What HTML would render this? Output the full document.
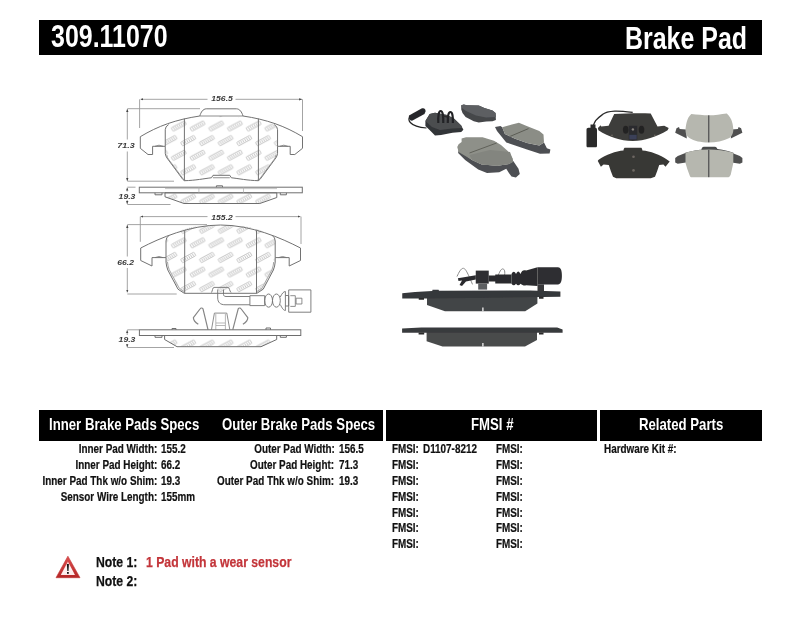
<!DOCTYPE html>
<html><head><meta charset="utf-8">
<style>
html,body{margin:0;padding:0;background:#fff;width:800px;height:619px;overflow:hidden;position:relative}
.t{position:absolute;white-space:nowrap;line-height:1;font-family:"Liberation Sans",sans-serif;font-weight:bold;transform-origin:0 0;color:#111}
.r{transform-origin:100% 0}
.bar{position:absolute;background:#000}
.w{color:#fff}
.s11{font-size:12px;transform:scaleX(0.824);-webkit-text-stroke:0.2px #111}
.h16{font-size:16.3px;transform:scaleX(0.81)}
.n15{font-size:15px;transform:scaleX(0.815);-webkit-text-stroke:0.25px currentColor}
.red{color:#c3353a}
svg{position:absolute;left:0;top:0}
</style></head><body>
<svg width="800" height="619" style="z-index:1">
<defs>
 <pattern id="cp" patternUnits="userSpaceOnUse" width="18.7" height="29.2" patternTransform="translate(1,1)">
  <g fill="none" stroke="#bdbdbd" stroke-width="0.8">
   <g transform="translate(2,10) rotate(-28)"><rect x="0" y="0" width="15" height="4" rx="0.6"/><path d="M2.3 0.7v2.6M4.4 0.7v2.6M6.5 0.7v2.6M8.6 0.7v2.6M10.7 0.7v2.6M12.8 0.7v2.6"/></g>
   <g transform="translate(11.35,24.6) rotate(-28)"><rect x="0" y="0" width="15" height="4" rx="0.6"/><path d="M2.3 0.7v2.6M4.4 0.7v2.6M6.5 0.7v2.6M8.6 0.7v2.6M10.7 0.7v2.6M12.8 0.7v2.6"/></g>
   <g transform="translate(-7.35,24.6) rotate(-28)"><rect x="0" y="0" width="15" height="4" rx="0.6"/><path d="M2.3 0.7v2.6M4.4 0.7v2.6M6.5 0.7v2.6M8.6 0.7v2.6M10.7 0.7v2.6M12.8 0.7v2.6"/></g>
  </g>
 </pattern>
 <filter id="gs"><feOffset dx="0" dy="0"/></filter>
 <marker id="ah" viewBox="0 0 6 6" refX="6" refY="3" markerWidth="3.2" markerHeight="3.2" orient="auto-start-reverse"><path d="M0 0.6 L6 3 L0 5.4 Z" fill="#444"/></marker>
</defs>
<g font-family="Liberation Sans" font-weight="bold" font-style="italic" font-size="7.3" fill="#3a3a3a" filter="url(#gs)">
 <text transform="translate(211.3,101.3) scale(1.18,1)">156.5</text>
 <text transform="translate(117.3,148) scale(1.22,1)">71.3</text>
 <text transform="translate(118.6,198.6) scale(1.18,1)">19.3</text>
 <text transform="translate(211.3,219.6) scale(1.18,1)">155.2</text>
 <text transform="translate(117.3,265) scale(1.18,1)">66.2</text>
 <text transform="translate(118.6,342.4) scale(1.18,1)">19.3</text>
</g>
<g fill="none" stroke="#9a9a9a" stroke-width="0.9">
 <!-- drawing1 dims -->
 <path d="M140.5 99.3H207.5M235.5 99.3H302" marker-start="url(#ah)" marker-end="url(#ah)"/>
 <path d="M139.6 99.3V128M302.5 99.3V131"/>
 <path d="M127.3 109V139.5M127.3 151.5V181" marker-start="url(#ah)" marker-end="url(#ah)"/>
 <path d="M127.3 108.7H200M127.3 181.2H174"/>
 <path d="M127.2 187.7V191.5M127.2 200V204" marker-start="url(#ah)" marker-end="url(#ah)"/>
 <path d="M127.3 187.2H135.5M127.3 204.5H170.5"/>
 <!-- drawing2 dims -->
 <path d="M140.5 216.6H207.5M235.5 216.6H300.5" marker-start="url(#ah)" marker-end="url(#ah)"/>
 <path d="M140.3 216.6V241.8M301 216.6V244"/>
 <path d="M127.3 225V256.5M127.3 268V292.5" marker-start="url(#ah)" marker-end="url(#ah)"/>
 <path d="M127.3 224.6H207M127.3 294H176.7"/>
 <path d="M127.2 330.2V335M127.2 344V347.2" marker-start="url(#ah)" marker-end="url(#ah)"/>
 <path d="M127.3 329.8H139M127.3 347.5H174"/>
</g>
<!-- Drawing 1 pad -->
<path d="M168.6 124.6 Q165.25 126.5 165.25 129.7 L165.25 153.4 Q165.5 156 167 158 L182.8 179.4 L184.5 180.7 C195 180.5 205 178.5 211.5 177.75 L213 175.3 L229.8 175.3 L231.3 177.75 C238 178.5 248 180.5 258.3 180.7 L258.3 180.7 L260 179.4 L275.8 158 Q277.3 156 277.55 153.4 L277.55 129.7 Q277.55 126.5 274.2 124.6 C260 119.5 240 116 221.4 116 C202 116 182 119.5 168.6 124.6Z" fill="url(#cp)"/>
<g fill="none" stroke="#727272" stroke-width="1" stroke-linejoin="round">
 <path d="M140.3 136.7 C158 126 176 119.5 199.8 116 C201 112 203 109 206.2 108.8 L236.6 108.8 C239.8 109 241.8 112 243 116 C266.8 119.5 284.8 126 302.5 136.7 L302.5 148.3 L294.8 154.5 L290.2 154.5 L290.2 146.3 L277.55 146.3 L277.55 153.4 Q277.3 156 275.8 158 L260 179.4 L258.3 180.7 C248 180.5 238 178.5 231.3 177.75 L229.8 175.3 L213 175.3 L211.5 177.75 C205 178.5 195 180.5 184.5 180.7 L182.8 179.4 L167 158 Q165.5 156 165.25 153.4 L165.25 146.3 L152.6 146.3 L152.6 154.5 L148 154.5 L140.3 148.3 Z"/>
 <path d="M168.6 124.6 Q165.25 126.5 165.25 129.7 L165.25 146.3 M 274.2 124.6 Q 277.55 126.5 277.55 129.7 L 277.55 146.3"/>
 <path d="M199.8 116 L243 116M213 177.75 H229.8" stroke-width="0.8"/>
 <path d="M184.4 118.6V180.7M258.4 118.6V180.7"/>
 <path d="M155 146.3 q4 -2.2 8 0" stroke-width="0.8"/>
 <path d="M279.8 146.3 q4 -2.2 8 0" stroke-width="0.8"/>
</g>
<g fill="none" stroke="#8c8c8c" stroke-width="0.8">
 <path d="M166.8 155 Q167.2 157.5 168.5 159.2 L183.5 179.3"/><path d="M 276 155 Q 275.6 157.5 274.3 159.2 L 259.3 179.3"/>
 <path d="M167.5 262 Q167.8 266 169.2 269.6 L179.3 288.3 L184.7 291.8"/><path d="M 273.7 262 Q 273.4 266 272 269.6 L 261.9 288.3 L 256.5 291.8"/>
</g>
<!-- edge view 1 -->
<path d="M165 192.8 L276.8 192.8 L276.8 197.5 L259.8 203.5 L184 203.5 L165 196.8Z" fill="url(#cp)" stroke="#6e6e6e" stroke-width="1"/>
<g fill="none" stroke="#6e6e6e" stroke-width="1">
 <rect x="139.3" y="187.2" width="163" height="5.6"/>
 <path d="M155 192.8V194.8H162V192.8M280.3 192.8V194.8H286.4V192.8"/>
 <path d="M216.4 187.2V185.8H222.5V187.2" />
 <path d="M165 188.6H277M198.9 187.2V192.8M243.5 187.2V192.8" stroke="#aaa" stroke-width="0.7"/>
</g>
<!-- Drawing 2 pad -->
<path d="M168.8 235.6 Q166 237.6 166 241 L166 262 Q166.3 266 167.8 270 L178 289.2 L184.3 293.3 L256.9 293.3 L263.2 289.2 L273.4 270 Q274.9 266 275.2 262 L275.2 241 Q275.2 237.6 272.4 235.6 C251.2 225 238 225 220.6 225 C203 225 190 225 168.8 235.6Z" fill="url(#cp)"/>
<g fill="none" stroke="#727272" stroke-width="1" stroke-linejoin="round">
 <path d="M140.7 248 C160 238 190 225 220.6 225 C251.2 225 281.2 238 300.5 248 L300.5 260.5 L289.2 266 L289.2 257.6 L275.2 257.6 L275.2 262 Q274.9 266 273.4 270 L263.2 289.2 L256.9 293.3 L184.3 293.3 L178 289.2 L167.8 270 Q166.3 266 166 262 L166 257.6 L152 257.6 L152 266 L140.7 260.5 Z"/>
 <path d="M168.8 235.6 Q166 237.6 166 241 L166 257.6 M272.4 235.6 Q275.2 237.6 275.2 241 L275.2 257.6"/>
 <path d="M184.7 230.6V293.3M256.5 230.6V293.3"/>
 <path d="M155 257.6 q4 -2.2 8 0M278.6 257.6 q4 -2.2 8 0" stroke-width="0.8"/>
 <!-- sensor -->
 <path d="M211.5 292.5 C212.5 291,212.5 287.4,214 287.4 H228 C229.5 287.4,229.5 291,231 292.5" stroke-width="0.9"/>
 <path d="M217.7 289.5 V298 C217.7 302.5,220.5 304.75,225 304.75 H249.9 M223.5 289.5 V294.5 C223.5 295.8,224.5 296.5,226 296.5 H249.9" stroke-width="0.9"/>
 <rect x="249.9" y="295.7" width="14.8" height="9.9" stroke-width="0.9"/>
 <ellipse cx="268.6" cy="300.6" rx="3.9" ry="6.6" stroke-width="0.9"/>
 <ellipse cx="276.4" cy="300.6" rx="3.9" ry="6.6" stroke-width="0.9"/>
 <path d="M280.3 297 C282 293.5,283.5 291.5,285.4 291.5 V310.5 C283.5 310.5,282 308,280.3 304.5" stroke-width="0.9"/>
 <path d="M285.4 295.5 H288.7 V306 H285.4" stroke-width="0.9"/>
 <rect x="288.7" y="289.9" width="22.2" height="22.3" stroke-width="0.9"/>
 <path d="M290.3 295.7 H295.3 V306.4 H290.3" stroke-width="0.8"/>
 <rect x="296.1" y="298.2" width="5.8" height="5.8" stroke-width="0.8"/>
 <!-- clips -->
 <path d="M198.3 324.3 C195.5 322.5,193.4 320,193.4 317.7 L200 309 C200.8 307.8,202.2 307.6,203 308.8 L208 329.6" stroke="#858585" stroke-width="1.2"/>
 <path d="M242.9 324.3 C245.7 322.5,247.8 320,247.8 317.7 L241.2 309 C240.4 307.8,239 307.6,238.2 308.8 L232.8 329.6" stroke="#858585" stroke-width="1.2"/>
 <path d="M211.5 329.6 L214.4 313.1 L226.8 313.1 L229.8 329.6" stroke="#808080" stroke-width="0.9"/>
 <path d="M215.8 314 V329.6 M225.4 314 V329.6 M216 323 H225.2 M216 325.5 H225.2" stroke="#999" stroke-width="0.7"/>
</g>
<!-- edge view 2 -->
<path d="M164.6 335.5 L276.7 335.5 L276.7 339.5 L261 346.7 L177 346.7 L164.6 339.5Z" fill="url(#cp)" stroke="#6e6e6e" stroke-width="1"/>
<g fill="none" stroke="#6e6e6e" stroke-width="1">
 <rect x="139.4" y="329.8" width="161.4" height="5.7"/>
 <path d="M155 335.5V337.3H162V335.5M280.3 335.5V337.3H286.4V335.5"/>
 <path d="M266 329.8V328H270.5V329.8M172 329.8V328.5H176V329.8"/>
</g>
</svg>

<svg width="800" height="619" style="z-index:1">
<defs>
 <filter id="bl" x="-5%" y="-5%" width="110%" height="110%"><feGaussianBlur stdDeviation="0.6"/></filter>
</defs>
<g filter="url(#bl)">
 <!-- Photo1: A sensor pad -->
 <path d="M425.4 121 L429.7 114 L435 112.7 L447.2 114.9 L454.2 118.8 L461.2 125.4 L463.4 129.7 L461.2 132 L452.5 132.8 L441.1 135 L435 135.4 L430.6 131 L425.4 126Z" fill="#333537"/>
 <path d="M425.4 121 L429.7 114 L435 112.7 L447.2 114.9 L454.2 118.8 L461.2 125.4 L462 128 L452 128.5 L440 130 L432 127Z" fill="#4b4d50"/>
 <path d="M438.3 123 C438 115,438.8 111,440.7 111 C442.6 111,443.4 115,443.3 123" fill="none" stroke="#222325" stroke-width="2.2"/>
 <path d="M447.8 123 C447.6 116,448.5 112,450.4 112 C452.3 112,453.1 116,452.9 123" fill="none" stroke="#222325" stroke-width="2.2"/>
 <path d="M443.5 116 L447.5 117" stroke="#2a2a2a" stroke-width="1.5"/>
 <path d="M426.5 128 C420 127.5,413 125.5,410.3 122.5 C408.8 120.8,408.5 119,409.5 117" fill="none" stroke="#222" stroke-width="1.2"/>
 <path d="M409 115.5 L421.5 108.5 C424 107.5,426 109,425.5 111.5 L424.5 114 L412.5 120.5 C410 121.5,408.5 118,409 115.5Z" fill="#27282a"/>
 <!-- B back pad top -->
 <path d="M461.25 105.3 L463.75 104.4 L466.9 105.3 L478.75 105.6 L484.4 108.1 L492.5 110.6 L495.6 113.1 L495.9 120 L492.5 121.25 L486.25 121.6 L478.75 122.5 L473.75 121.25 L465.6 116.9 L462.5 113.1 L461.25 109.4Z" fill="#45474a"/>
 <path d="M461.25 105.3 L463.75 104.4 L466.9 105.3 L478.75 105.6 L484.4 108.1 L492.5 110.6 L495.6 113.1 L495.9 117 L486 117.5 L476 115.5 L466 111 L462 108Z" fill="#5d5f62"/>
 <!-- C friction pad left -->
 <path d="M458.6 150 L458.1 153 L465.1 160 L478.25 169.6 L487 173.1 L499.25 172.25 L506.25 168.75 L508.9 173.1 L511.5 176.6 L515.9 177.5 L519.8 174 L518.5 168.75 L513.25 161 L508.9 164 L497.5 165.7 L481.75 164.4 L472.1 160Z" fill="#4e5053"/>
 <path d="M461.6 138.6 L466 137.25 L482.6 137.25 L494 140.75 L501 145.1 L508 151.25 L512.4 158.25 L513.25 161.75 L508.9 164 L497.5 165.7 L481.75 164.4 L472.1 160 L458.6 152.1 L457.25 146.9 L458.6 144.25 L461.6 142Z" fill="#8e9089"/>
 <path d="M469.5 155 L490 150 L510 152 L512.4 158.25 L513.25 161.75 L508.9 164 L497.5 165.7 L481.75 164.4 L472.1 160Z" fill="#83857f"/>
 <path d="M469.5 153 L496.6 143" stroke="#5a5b54" stroke-width="0.9"/>
 <!-- D friction pad right -->
 <path d="M495 127 L500.5 125.9 L502.2 127.2 L504.9 134 L514.5 138.5 L527 143 L539.3 145.5 L544 142.5 L546.9 148.2 L550.4 149.6 L549.6 153.5 L540 153.8 L527 149.5 L506.3 142.4 L497 131Z" fill="#4d4f52"/>
 <path d="M502.2 127.2 L511.9 124.6 L518.9 122.8 L526.7 126 L539.3 131.1 L543.5 134.5 L544 142.5 L539.3 145.5 L527 143 L514.5 138.5 L504.9 134Z" fill="#8b8d86"/>
 <path d="M510.1 136.4 L528.5 128.6" stroke="#56574f" stroke-width="0.9"/>

 <!-- Photo2: E back pad with sensor -->
 <path d="M614.2 114 C626 113.2,640 113.2,650.7 113.4 L657.5 126.4 L664.2 125.8 L668.7 128.1 L667.6 130.3 C656 137,645 141,632.7 141 C620 141,609 137,598.4 130.3 L597.9 128.1 L600.7 125.2 L601.2 126.4 L608.6 125.8Z" fill="#3d3c3a"/>
 <ellipse cx="625.7" cy="129.8" rx="2.8" ry="4" fill="#242424"/>
 <ellipse cx="641.5" cy="129.8" rx="2.8" ry="4" fill="#242424"/>
 <path d="M628.8 125.8 h8.4 v14.1 h-8.4z" fill="#2a2a2e"/>
 <path d="M629.3 134.8 h7.4 v4.6 h-7.4z" fill="#3b4058"/>
 <circle cx="632.9" cy="129.4" r="1.2" fill="#8a8580"/>
 <circle cx="612" cy="135.3" r="0.9" fill="#6a655e"/>
 <circle cx="654.8" cy="135.3" r="0.9" fill="#6a655e"/>
 <path d="M632.7 112.3 C625 111.5,620 111,614.7 111.2 C609 111.5,605 112.5,602.4 114.6 C599 117,597 119,595.6 120.7 C594.5 122.5,593.8 124,593.4 126" fill="none" stroke="#2a2a2a" stroke-width="1.3"/>
 <path d="M590.5 124.5 h5 v4 h-5z" fill="#2a2a2a"/><path d="M586.5 129.7 C586.5 128.5,587.3 127.8,588.5 127.8 L595 127.8 C596.2 127.8,597 128.5,597 129.7 L597 146 C597 146.8,596.4 147.3,595.6 147.3 L587.9 147.3 C587.1 147.3,586.5 146.8,586.5 146Z" fill="#2c2c2c"/>
 <!-- F back pad lower -->
 <path d="M624.6 147.8 L641.4 147.8 C642 148.5,642.4 149.5,642.4 150.4 C650 151,660 154.5,667.6 159.9 L669.7 161.4 L665.5 166.7 L663.4 164.6 L659.2 165.1 C658 169,656.5 173,655 176.7 L650.8 178.2 L616.2 178.2 L613 176.7 C611.5 173,610 169,608.8 165.1 L603.6 164.6 L600.9 166.7 L597.8 160.9 L598.3 159.9 C606 154.5,616 151,623.5 150.4 C623.5 149.5,624 148.5,624.6 147.8Z" fill="#393735"/>
 <circle cx="633.5" cy="156.7" r="1.3" fill="#6d6862"/>
 <circle cx="633.5" cy="170.4" r="1.3" fill="#6d6862"/>
 <!-- G front pad upper -->
 <path d="M686 129.5 L679.7 128.9 L679 127 L676.5 128.25 L675.2 132.8 L686.8 138.6Z" fill="#4f5050"/>
 <path d="M731.6 129.5 L737.9 128.9 L738.6 127 L741.1 128.25 L742.4 132.8 L730.8 138.6Z" fill="#4f5050"/>
 <path d="M691.3 114 C697 114.5,703 115.3,708.8 115.3 C715 115.3,721 114,726.8 113.4 C729.5 116,731.5 119,732 121.8 C733 125,733.3 128,733.3 130.8 C733 134,731.5 136.5,729.4 138 C723 141,716 142.5,708.8 142.5 C701 142.5,694 141,689.4 138 C687 136.5,685.6 134,685.5 130.8 C685.5 128,686 125,686.8 121.8 C687.5 119,689 116,691.3 114Z" fill="#b6b7af"/>
 <path d="M708.8 115.3 V142.3" stroke="#36363a" stroke-width="1"/>
 <!-- H front pad lower -->
 <path d="M685.5 152.8 C693 150.7,698 149.8,701.3 149.7 C701.8 148,702.5 146.8,703.9 146.8 L714.9 146.8 C716.3 146.8,717 148,717.4 149 C722 149.6,727 150.6,733.3 152.8 L733.3 154.5 C725 152.3,717 151,708.8 151 C700 151,693 152.3,685.5 154.5Z" fill="#4a4b4b"/>
 <path d="M686 152.8 L677.75 156 L675.2 158 L675.2 162.5 L677.75 163.8 L686 162.5Z" fill="#4f5050"/>
 <path d="M731.6 152.8 L739.85 156 L742.4 158 L742.4 162.5 L739.85 163.8 L731.6 162.5Z" fill="#4f5050"/>
 <path d="M685.5 152.8 C693 150.7,700 149.6,708.8 149.6 C717 149.6,725 150.7,733.3 152.8 L733.3 163.1 C732.5 167,731.5 171,730.7 174.8 C730 176.5,729 177.35,727.5 177.35 L692 177.35 C690.5 177.35,689.8 176.5,689.4 174.8 C688 171,686.5 167,685.5 163.1Z" fill="#b6b7af"/>
 <path d="M708.8 149.8 V177.2" stroke="#36363a" stroke-width="1"/>

 <!-- Photo3: I side view top -->
 <path d="M427 297 L427 304.9 L445 311.25 L525.2 311.25 L537.4 303.5 L537.4 297Z" fill="#434547"/>
 <path d="M482.3 307.6 h1.2 v3.7 h-1.2z" fill="#fff"/>
 <path d="M402.25 293.25 L415 292.1 L432.25 291 L432.5 289.8 L438.6 289.8 L439 290.8 L530 290.5 L560.4 291.6 L560.4 296.8 L427 298.5 L402.25 298.5Z" fill="#35373a"/>
 <path d="M418.75 298 h5.25 v1.8 h-5.25z M539 296.8 h4.5 v2 h-4.5z" fill="#2a2a2a"/>
 <path d="M457 276.5 C459 272,461 268.5,463 268.3 C465 268.2,466.5 270,472.5 284.4 M497.7 276.5 C499.5 272,501 268.9,502.6 268.9 C504.5 269,505.5 271,504.2 277.9" fill="none" stroke="#8a8a8a" stroke-width="1"/>
 <path d="M457.9 278.2 L475.8 275.2 L475.8 279.5 L466 281.5 L462 286 L459.5 285 L462 280.5 L458.5 281Z" fill="#2b2c2e"/>
 <rect x="475.75" y="270.6" width="13" height="13" fill="#2d2e30"/>
 <rect x="478.2" y="283.6" width="8.9" height="6" fill="#5d5f62"/>
 <path d="M488.75 275.6 H495.25 V274.6 H511.5 V283.6 H495.25 V281.6 H488.75Z" fill="#2a2b2d"/>
 <path d="M511.5 274 c1.5 -3,3 -3,4.5 0 c1.5 -3.5,3 -3.5,4.5 0 c1.5 -4,3 -4,5.6 -3.5 L537.5 267.3 V286 L526.1 285.2 c-2 1,-3.5 0,-5.6 -1.5 c-1.5 2,-3 2,-4.5 0 c-1.5 2,-3 2,-4.5 0Z" fill="#2b2c2e"/>
 <path d="M537.5 267.3 H558 C560.5 267.3,561.9 270,561.9 275.8 C561.9 281.6,560.5 284.4,558 284.4 H537.5Z" fill="#2e2f31"/>
 <path d="M537.5 284.4 h6.5 v6.6 h-6.5z" fill="#38393b"/>
 <!-- J side view bottom -->
 <path d="M426.6 332 L426.6 341.25 L442.5 346.6 L525 346.6 L537 340 L537 332Z" fill="#4a4b4c"/>
 <path d="M482.3 343 h1.2 v3.6 h-1.2z" fill="#fff"/>
 <path d="M402.1 328.5 L421.25 327.4 L557.2 327.4 L562.6 329.6 L562.6 332.75 L402.1 332.75Z" fill="#393a3c"/>
 <path d="M418.6 332.6 h5.6 v2 h-5.6z M539 332.6 h4.5 v2 h-4.5z" fill="#2a2a2a"/>
</g>
</svg>

<div class="bar" style="left:39px;top:20.3px;width:723px;height:34.4px"></div>
<div class="t w" style="left:51px;top:21.2px;font-size:31px;transform:scaleX(0.805)">309.11070</div>
<div class="t w" style="left:625px;top:22.6px;font-size:31px;transform:scaleX(0.805)">Brake Pad</div>
<div class="bar" style="left:39px;top:410.4px;width:344px;height:30.2px"></div>
<div class="bar" style="left:386px;top:410.4px;width:211px;height:30.2px"></div>
<div class="bar" style="left:600px;top:410.4px;width:162px;height:30.2px"></div>
<div class="t w h16" style="left:48.5px;top:416px">Inner Brake Pads Specs</div>
<div class="t w h16" style="left:221.5px;top:416px">Outer Brake Pads Specs</div>
<div class="t w h16" style="left:470.5px;top:416px">FMSI #</div>
<div class="t w h16" style="left:639px;top:416px">Related Parts</div>
<div class="t s11 r" style="right:642.4px;top:443.34px">Inner Pad Width:</div>
<div class="t s11" style="left:161.3px;top:443.34px">155.2</div>
<div class="t s11 r" style="right:642.4px;top:459.14px">Inner Pad Height:</div>
<div class="t s11" style="left:161.3px;top:459.14px">66.2</div>
<div class="t s11 r" style="right:642.4px;top:474.94px">Inner Pad Thk w/o Shim:</div>
<div class="t s11" style="left:161.3px;top:474.94px">19.3</div>
<div class="t s11 r" style="right:642.4px;top:490.74px">Sensor Wire Length:</div>
<div class="t s11" style="left:161.3px;top:490.74px">155mm</div>
<div class="t s11 r" style="right:465.5px;top:443.34px">Outer Pad Width:</div>
<div class="t s11" style="left:338.5px;top:443.34px">156.5</div>
<div class="t s11 r" style="right:465.5px;top:459.14px">Outer Pad Height:</div>
<div class="t s11" style="left:338.5px;top:459.14px">71.3</div>
<div class="t s11 r" style="right:465.5px;top:474.94px">Outer Pad Thk w/o Shim:</div>
<div class="t s11" style="left:338.5px;top:474.94px">19.3</div>
<div class="t s11" style="left:392px;top:443.34px">FMSI:</div>
<div class="t s11" style="left:496.3px;top:443.34px">FMSI:</div>
<div class="t s11" style="left:392px;top:459.14px">FMSI:</div>
<div class="t s11" style="left:496.3px;top:459.14px">FMSI:</div>
<div class="t s11" style="left:392px;top:474.94px">FMSI:</div>
<div class="t s11" style="left:496.3px;top:474.94px">FMSI:</div>
<div class="t s11" style="left:392px;top:490.74px">FMSI:</div>
<div class="t s11" style="left:496.3px;top:490.74px">FMSI:</div>
<div class="t s11" style="left:392px;top:506.54px">FMSI:</div>
<div class="t s11" style="left:496.3px;top:506.54px">FMSI:</div>
<div class="t s11" style="left:392px;top:522.34px">FMSI:</div>
<div class="t s11" style="left:496.3px;top:522.34px">FMSI:</div>
<div class="t s11" style="left:392px;top:538.14px">FMSI:</div>
<div class="t s11" style="left:496.3px;top:538.14px">FMSI:</div>
<div class="t s11" style="left:423px;top:443.34px">D1107-8212</div>
<div class="t s11" style="left:603.8px;top:443.34px">Hardware Kit #:</div>
<div class="t n15" style="left:96.3px;top:554.0px">Note 1:</div>
<div class="t n15" style="left:96.3px;top:572.7px">Note 2:</div>
<div class="t n15 red" style="left:145.6px;top:554.2px">1 Pad with a wear sensor</div>
<svg width="800" height="619" style="z-index:2">
 <defs>
  <linearGradient id="tr" x1="0" y1="0" x2="0" y2="1"><stop offset="0" stop-color="#e05050"/><stop offset="1" stop-color="#b42626"/></linearGradient>
  <linearGradient id="tw" x1="0" y1="0" x2="0" y2="1"><stop offset="0" stop-color="#f6c6c6"/><stop offset="0.5" stop-color="#fff4f4"/><stop offset="1" stop-color="#fde8e8"/></linearGradient>
 </defs>
 <path d="M67.9 556.2 L56 577.7 L80 577.7 Z" fill="url(#tr)" stroke="#c03030" stroke-width="0.6" stroke-linejoin="round"/>
 <path d="M67.9 561.6 L60.8 574.9 L75 574.9 Z" fill="url(#tw)"/>
 <path d="M66.9 564 H68.9 L68.5 571 H67.3 Z" fill="#151515"/>
 <rect x="67" y="572" width="1.8" height="1.8" fill="#151515"/>
</svg>
</body></html>
